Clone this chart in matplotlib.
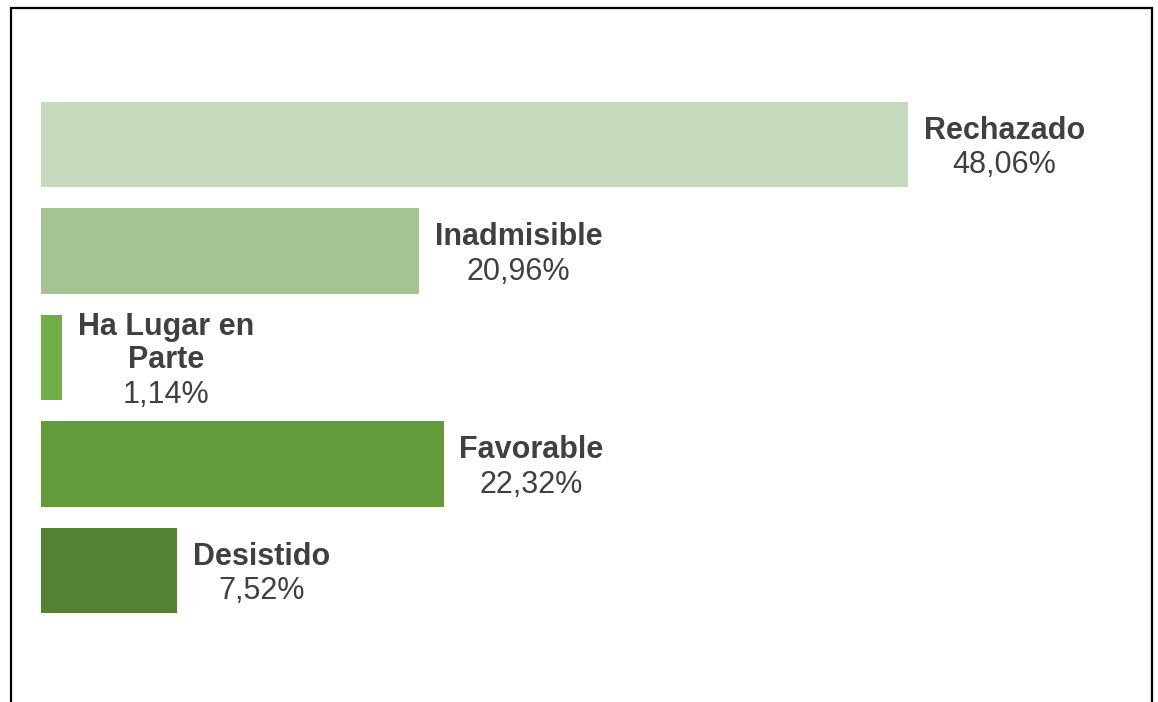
import matplotlib
matplotlib.use("Agg")
import matplotlib.pyplot as plt
from matplotlib.offsetbox import TextArea, VPacker, AnnotationBbox
from matplotlib.patches import Rectangle

# Datos del gráfico
categorias = ["Rechazado", "Inadmisible", "Ha Lugar en\nParte", "Favorable", "Desistido"]
valores = [48.06, 20.96, 1.14, 22.32, 7.52]
etiquetas = ["48,06%", "20,96%", "1,14%", "22,32%", "7,52%"]
colores = ["#c5d9bc", "#a4c592", "#70ad47", "#629b3c", "#548235"]

W, H = 1158, 702
fig = plt.figure(figsize=(W / 100, H / 100), dpi=100)
plt.rcParams['font.family'] = ['Liberation Sans', 'DejaVu Sans']

# ejes: 1% = ~18 px, barras centradas en filas de 106.5 px
ax = fig.add_axes([41 / W, 1 - 623.75 / H, 1082 / W, 532.5 / H])
pos = list(range(len(valores)))
ax.barh(pos, valores, height=0.8, color=colores)
ax.set_xlim(0, 60)
ax.set_ylim(4.5, -0.5)
ax.axis("off")

gris = "#404040"
for i, (cat, v, et) in enumerate(zip(categorias, valores, etiquetas)):
    nombre = TextArea(cat, textprops=dict(fontsize=22, fontweight="bold", color=gris,
                                          multialignment="center", linespacing=1.12))
    pct = TextArea(et, textprops=dict(fontsize=22, color=gris))
    caja = VPacker(children=[nombre, pct], align="center", pad=0, sep=3.5)
    ab = AnnotationBbox(caja, (v, i), xybox=(11.5, -2.5), xycoords="data",
                        boxcoords="offset points", box_alignment=(0, 0.5),
                        frameon=False, pad=0)
    ax.add_artist(ab)

# marco exterior (el borde inferior queda fuera de la imagen)
fig.add_artist(Rectangle((11 / W, -0.1), (1152 - 11) / W, 1.1 - 8 / H,
                         transform=fig.transFigure, fill=False,
                         edgecolor="black", linewidth=1.6))

fig.savefig("out.png", dpi=100)
